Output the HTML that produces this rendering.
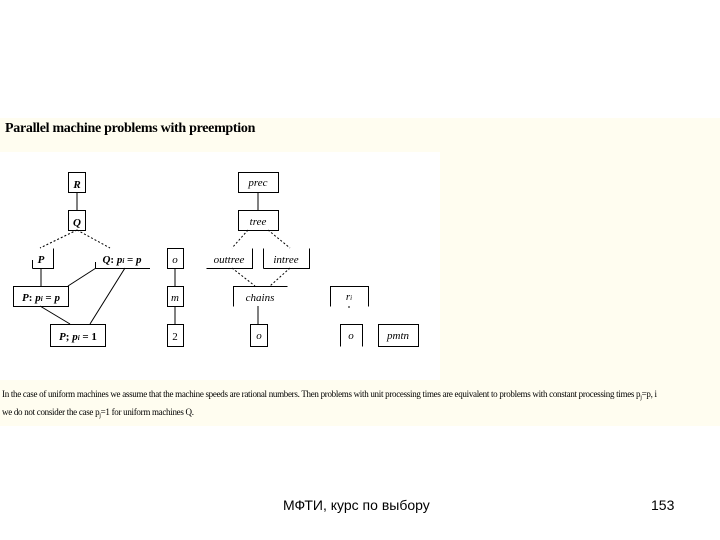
<!DOCTYPE html>
<html><head><meta charset="utf-8"><style>
body{margin:0;width:720px;height:540px;background:#fff;position:relative;overflow:hidden;font-family:"Liberation Serif",serif}
.cream{position:absolute;left:0;top:118px;width:720px;height:308px;background:#fffdf0}
.white{position:absolute;left:0;top:152px;width:440px;height:228px;background:#fff}
.t{position:absolute;white-space:nowrap;line-height:1}
sub{font-size:6px;line-height:0;vertical-align:-2px}
</style></head><body>
<div class="cream"></div><div class="white"></div>
<div class="t" style="left:5px;top:122px;font-size:14px;font-weight:bold;letter-spacing:-0.3px">Parallel machine problems with preemption</div>
<svg style="position:absolute;left:0;top:0" width="720" height="540" font-family="Liberation Serif,serif" font-style="italic" font-size="11" text-anchor="middle">
<g fill="none" stroke="#000" stroke-width="1">
<rect x="68.5" y="172.5" width="17" height="20"/>
<rect x="68.5" y="210.5" width="17" height="20"/>
<rect x="238.5" y="172.5" width="40" height="20"/>
<rect x="238.5" y="210.5" width="40" height="20"/>
<path d="M32.5 268.5H53.5V248.5M32.5 268.5V260"/>
<path d="M95.5 268.5H150M95.5 268.5V262"/>
<rect x="167.5" y="248.5" width="16" height="20"/>
<path d="M206.5 268.5H252.5V248.5"/>
<path d="M263.5 268.5V248.5M263.5 268.5H309.5V248.5"/>
<rect x="13.5" y="286.5" width="55" height="20"/>
<rect x="167.5" y="286.5" width="16" height="20"/>
<path d="M233.5 306.5V286.5H287.5"/>
<path d="M330.5 306.5V286.5H368.5V306.5"/>
<rect x="50.5" y="324.5" width="55" height="22"/>
<rect x="167.5" y="324.5" width="16" height="22"/>
<rect x="250.5" y="324.5" width="17" height="22"/>
<path d="M340.5 346.5V324.5H362.5V346.5"/>
<rect x="378.5" y="324.5" width="40" height="22"/>
<path d="M77 192V210M258 192V210M41 268V286M175 268V286M175 306V324M258 306V324"/>
<path d="M68 286L96 268M90 324L125 268M40 306L70 324"/>
<path stroke-dasharray="2,2" d="M77 230L40 248M77 230L110 248M248 230L232 248M268 230L290 248M232 268L255 286M290 268L270 286M349 306V310"/>
</g>
<g fill="#000" font-weight="bold">
<text x="77" y="188">R</text><text x="77" y="226">Q</text>
<text x="41" y="263">P</text><text x="122" y="263">Q<tspan font-style="normal">:</tspan> p<tspan font-size="7">i</tspan> <tspan font-style="normal">=</tspan> p</text>
<text x="41" y="301">P<tspan font-style="normal">:</tspan> p<tspan font-size="7">i</tspan> <tspan font-style="normal">=</tspan> p</text>
<text x="78" y="340">P<tspan font-style="normal">;</tspan> p<tspan font-size="7">i</tspan> <tspan font-style="normal">= 1</tspan></text>
</g>
<g fill="#000">
<text x="175" y="263">o</text><text x="175" y="301">m</text><text x="175" y="340" font-style="normal">2</text>
<text x="258" y="186">prec</text><text x="258" y="225">tree</text>
<text x="229" y="263">outtree</text><text x="286" y="263">intree</text>
<text x="260" y="301">chains</text><text x="349" y="300">r<tspan font-size="7">i</tspan></text>
<text x="259" y="339">o</text><text x="351" y="339">o</text><text x="398" y="339">pmtn</text>
</g>
</svg>
<div class="t" style="left:2px;top:390px;font-size:9px;letter-spacing:-0.3px">In the case of uniform machines we assume that the machine speeds are rational numbers. Then problems with unit processing times are equivalent to problems with constant processing times p<sub>j</sub>=p, i</div>
<div class="t" style="left:2px;top:408px;font-size:9px;letter-spacing:-0.3px">we do not consider the case p<sub>j</sub>=1 for uniform machines Q.</div>
<div class="t" style="left:283px;top:498px;font-size:14px;font-family:'Liberation Sans',sans-serif">МФТИ, курс по выбору</div>
<div class="t" style="left:651px;top:498px;font-size:14px;font-family:'Liberation Sans',sans-serif">153</div>
</body></html>
